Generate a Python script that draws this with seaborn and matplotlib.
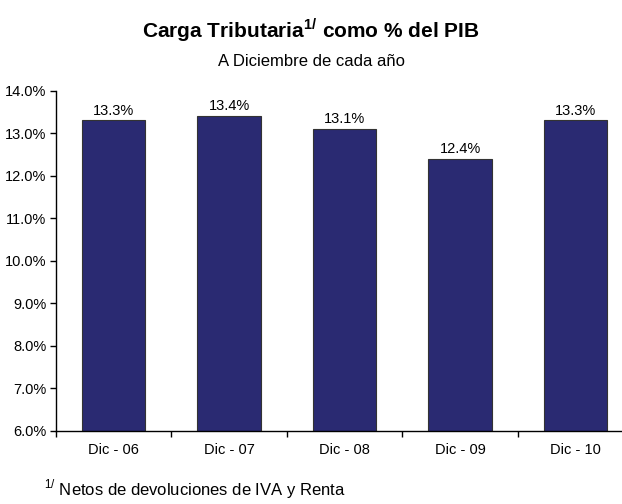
import numpy as np
import pandas as pd
import seaborn as sns
from matplotlib import pyplot as plt
from matplotlib.ticker import FixedLocator

periods = ['Dic - 06', 'Dic - 07', 'Dic - 08', 'Dic - 09', 'Dic - 10']
carga = [13.3, 13.4, 13.1, 12.4, 13.3]
y_ticks = [6, 7, 8, 9, 10, 11, 12, 13, 14]

sns.set_style("white")
plt.rcParams['font.family'] = ['Liberation Sans', 'DejaVu Sans']
plt.rcParams['text.color'] = 'black'
plt.rcParams['xtick.color'] = 'black'
plt.rcParams['ytick.color'] = 'black'

df = pd.DataFrame({'periodo': periods, 'carga': carga})

fig = plt.figure(figsize=(6.22, 5.04), dpi=100)
ax = fig.add_axes([0.09, 0.145, 0.928, 0.675])

sns.barplot(data=df, x='periodo', y='carga', color='#2a2a72', saturation=1,
            width=0.55, edgecolor='#333333', linewidth=0.8, ax=ax)

ax.set_ylim(6, 14)
ax.set_xlim(-0.5, 4.5)
ax.set_yticks(y_ticks)
ax.set_yticklabels([f'{v:.1f}%' for v in y_ticks], fontsize=10.5)
ax.set_xticks(range(len(periods)))
ax.set_xticklabels(periods, fontsize=10.5)
ax.xaxis.set_minor_locator(FixedLocator(np.arange(-0.5, 5, 1)))
ax.tick_params(axis='x', which='major', bottom=False, length=0, pad=9)
ax.tick_params(axis='x', which='minor', bottom=True, length=4, width=1, direction='out')
ax.tick_params(axis='y', left=True, length=4, width=1, direction='out', pad=3)
ax.set_xlabel('')
ax.set_ylabel('')
sns.despine(ax=ax)
for s in ['left', 'bottom']:
    ax.spines[s].set_color('black')
    ax.spines[s].set_linewidth(1)

for i, v in enumerate(carga):
    ax.text(i, v + 0.07, f'{v:.1f}%', ha='center', va='bottom', fontsize=10.5)

fig.text(0.5, 0.94, r'Carga Tributaria$^{\mathregular{1/}}$ como % del PIB',
         ha='center', va='center', fontsize=15, fontweight='bold')
fig.text(0.5, 0.877, 'A Diciembre de cada año', ha='center', va='center', fontsize=12)
fig.text(0.07, 0.03, r'$^{\mathregular{1/}}$ Netos de devoluciones de IVA y Renta',
         ha='left', va='center', fontsize=12)

fig.savefig('out.png', dpi=100)
